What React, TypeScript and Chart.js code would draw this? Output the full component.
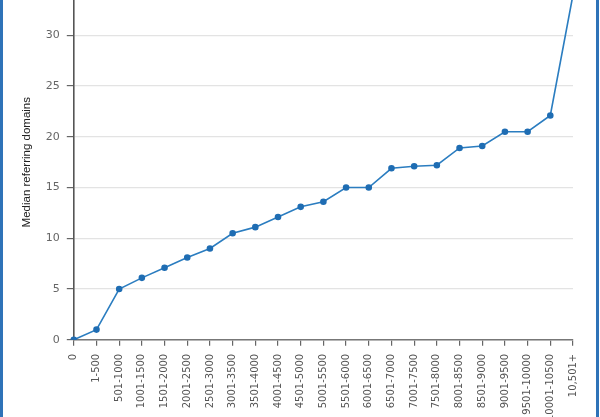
import React, { useEffect, useRef } from "react";
import { Chart, registerables } from "chart.js";

Chart.register(...registerables);

const categories = [
  "0", "1-500", "501-1000", "1001-1500", "1501-2000", "2001-2500", "2501-3000",
  "3001-3500", "3501-4000", "4001-4500", "4501-5000", "5001-5500", "5501-6000",
  "6001-6500", "6501-7000", "7001-7500", "7501-8000", "8001-8500", "8501-9000",
  "9001-9500", "9501-10000", "10001-10500", "10,501+",
];
const medianDomains = [
  0, 1, 5, 6.1, 7.1, 8.1, 9, 10.5, 11.1, 12.1, 13.1, 13.6, 15, 15, 16.9, 17.1,
  17.2, 18.9, 19.1, 20.5, 20.5, 22.1, 34,
];
const yTitle = "Median referring domains";
const yMin = 0;
const yMax = 35;
const yStep = 5;

export default function App() {
  const ref = useRef<HTMLCanvasElement | null>(null);
  useEffect(() => {
    if (!ref.current) return;
    const chart = new Chart(ref.current, {
      type: "line",
      data: {
        labels: categories,
        datasets: [
          {
            data: medianDomains,
            borderColor: "#2b7dc0",
            backgroundColor: "#1f6db3",
            pointBackgroundColor: "#1f6db3",
            pointBorderColor: "#1f6db3",
            borderWidth: 1.6,
            pointRadius: 2.5,
            tension: 0,
            fill: false,
          },
        ],
      },
      options: {
        responsive: false,
        animation: false,
        layout: { padding: { left: 16, right: 27, top: 2, bottom: 30 } },
        plugins: { legend: { display: false }, tooltip: { enabled: false } },
        scales: {
          x: {
            offset: false,
            grid: { drawOnChartArea: false, tickColor: "#666", tickLength: 6, lineWidth: 1.2 },
            border: { color: "#777", width: 1.5 },
            ticks: {
              autoSkip: false,
              minRotation: 90,
              maxRotation: 90,
              padding: 8,
              color: "#555",
              font: { family: "DejaVu Sans", size: 10 },
            },
          },
          y: {
            min: yMin,
            max: yMax,
            grid: { color: "#e3e3e3", tickColor: "#666", tickLength: 7, lineWidth: 1.2 },
            border: { color: "#555", width: 1.6 },
            ticks: {
              stepSize: yStep,
              padding: 7,
              color: "#666",
              font: { family: "DejaVu Sans", size: 11 },
            },
            title: {
              display: true,
              text: yTitle,
              color: "#222",
              padding: { top: 4, bottom: 5 },
              font: { family: "Liberation Sans", size: 11.5 },
            },
          },
        },
      },
    });
    return () => chart.destroy();
  }, []);
  return (
    <div style={{ position: "absolute", left: 0, top: 0, width: 600, height: 417, overflow: "hidden", background: "#fff" }}>
      <canvas ref={ref} width={600} height={488} style={{ position: "absolute", left: 0, top: -29, width: 600, height: 488 }} />
      <div style={{ position: "absolute", left: 0, top: 0, width: 3, height: 417, background: "#2f73b8" }} />
      <div style={{ position: "absolute", left: 596, top: 0, width: 3, height: 417, background: "#2f73b8" }} />
    </div>
  );
}
